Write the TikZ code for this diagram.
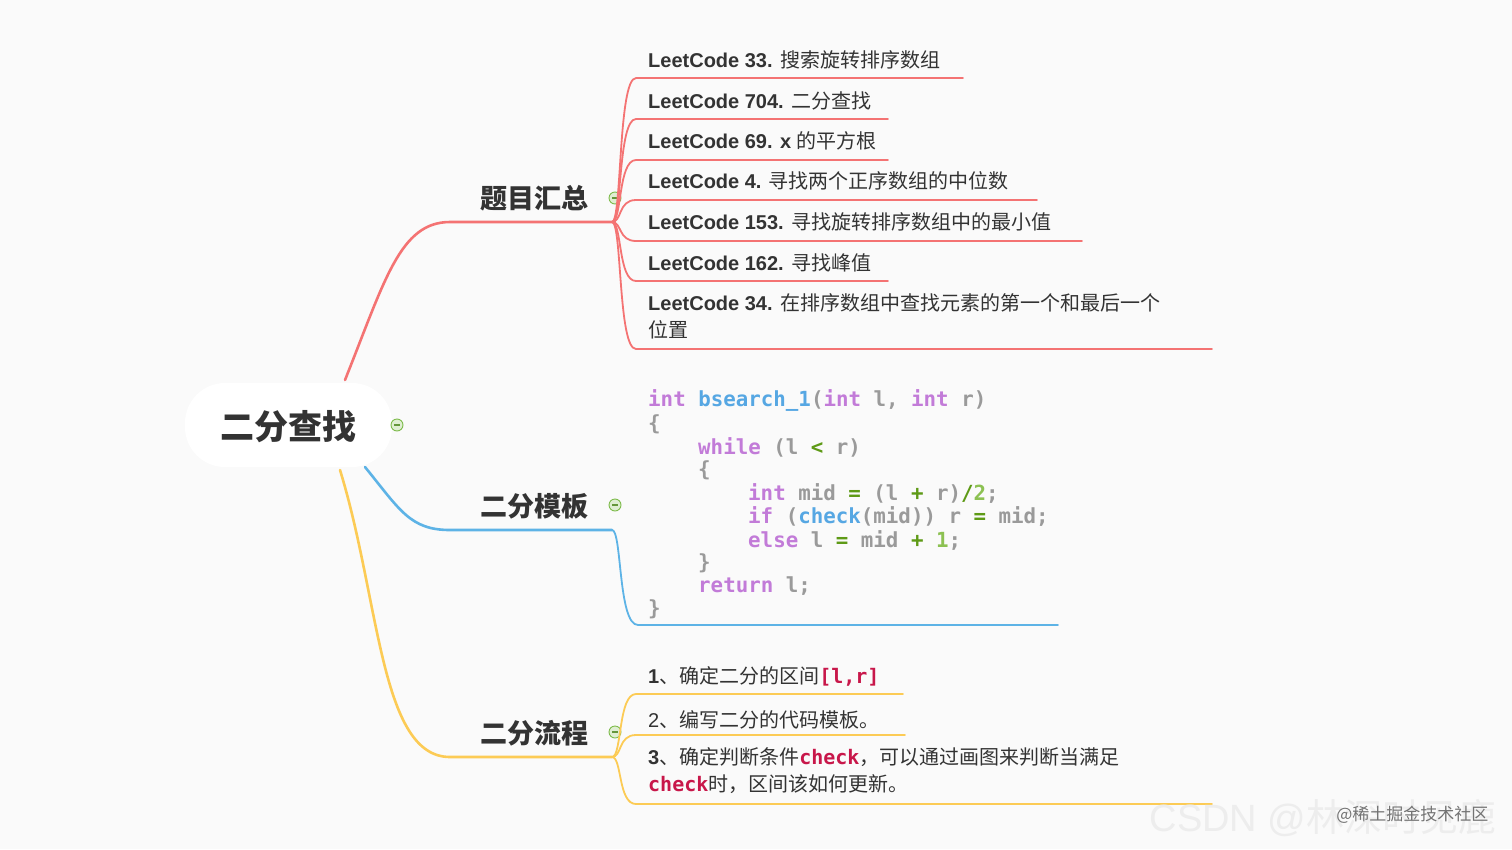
\documentclass[tikz,border=0pt]{standalone}
\usepackage{fontspec}
\setmainfont{Liberation Sans}
\newfontfamily\cjk{Noto Sans CJK SC}
\newfontfamily\codefont{DejaVu Sans Mono}
\usetikzlibrary{positioning}
\definecolor{bgc}{HTML}{FAFAFA}
\definecolor{txt}{HTML}{333333}
\definecolor{redb}{HTML}{F47373}
\definecolor{blueb}{HTML}{5DB3E6}
\definecolor{yelb}{HTML}{FCCB55}
\definecolor{kwc}{HTML}{C27BD8}
\definecolor{fnc}{HTML}{56A7E3}
\definecolor{idc}{HTML}{9A9A9A}
\definecolor{opc}{HTML}{5E9A16}
\definecolor{nmc}{HTML}{8CC152}
\definecolor{hlc}{HTML}{C8174A}
\definecolor{minc}{HTML}{7DBB4A}
\newcommand{\kw}[1]{\textcolor{kwc}{#1}}
\newcommand{\fn}[1]{\textcolor{fnc}{#1}}
\newcommand{\idt}[1]{\textcolor{idc}{#1}}
\newcommand{\op}[1]{\textcolor{opc}{#1}}
\newcommand{\nm}[1]{\textcolor{nmc}{#1}}
\newcommand{\hl}[1]{{\codefont\bfseries\textcolor{hlc}{#1}}}
\tikzset{
    title/.style = {font=\cjk\bfseries\fontsize{27}{30}\selectfont, text=txt, inner sep=0pt},
    item/.style = {anchor=west, inner sep=0pt, text=txt, align=left,
        font=\fontsize{20}{27}\selectfont},
    code/.style = {anchor=west, inner sep=0pt, text=idc,
        font=\codefont\bfseries\fontsize{20.8}{24}\selectfont},
    branch/.style = {line width=2.6pt, line cap=round},
    sub/.style = {line width=1.8pt, line cap=round},
    minus/.style = {circle, draw=minc, fill=minc!25, line width=0.9pt,
        minimum size=12pt, inner sep=0pt,
        path picture={\draw[minc!80!black, line width=1.2pt] ([xshift=-3pt]path picture bounding box.center) -- ([xshift=3pt]path picture bounding box.center);}}
}
\begin{document}
\begin{tikzpicture}[x=1pt, y=-1pt]
\fill[bgc] (0,0) rectangle (1512,849);
\useasboundingbox (0,0) rectangle (1512,849);

% root
\fill[white, rounded corners=40pt] (185,383) rectangle (392,467);
\node[font=\cjk\bfseries\fontsize{34}{36}\selectfont, text=txt] (root) at (288,427) {二分查找};
\node[minus] (m0) at (397,425) {};

% branch hubs
\coordinate (hubq) at (612,222);
\coordinate (hubt) at (612,530);
\coordinate (hubf) at (612,757);

% red branch: problems
\node[title] (topics) at (534,198) {题目汇总};
\node[minus] (m1) at (615,198) {};
\draw[branch, redb] (345,380) .. controls (385,280) and (400,222) .. (450,222) -- (hubq);

\node[item] (q1) at (648,60) {\textbf{LeetCode 33.} {\cjk 搜索旋转排序数组}};
\node[item] (q2) at (648,101) {\textbf{LeetCode 704.} {\cjk 二分查找}};
\node[item] (q3) at (648,141) {\textbf{LeetCode 69. x} {\cjk 的平方根}};
\node[item] (q4) at (648,181) {\textbf{LeetCode 4.} {\cjk 寻找两个正序数组的中位数}};
\node[item] (q5) at (648,222) {\textbf{LeetCode 153.} {\cjk 寻找旋转排序数组中的最小值}};
\node[item] (q6) at (648,263) {\textbf{LeetCode 162.} {\cjk 寻找峰值}};
\node[item] (q7) at (648,316) {\textbf{LeetCode 34.} {\cjk 在排序数组中查找元素的第一个和最后一个}\\{\cjk 位置}};

\foreach \y/\e in {78/963, 119/888, 160/888, 200/1037, 241/1082, 281/888, 349/1212}
    \draw[sub, redb] (hubq) .. controls (622,222) and (618,\y) .. (636,\y) -- (\e,\y);

% blue branch: template
\node[title] (tmpl) at (534,506) {二分模板};
\node[minus] (m2) at (615,505) {};
\draw[branch, blueb] (365,467) .. controls (400,510) and (410,530) .. (450,530) -- (hubt);
\draw[sub, blueb] (hubt) .. controls (622,530) and (618,625) .. (638,625) -- (1058,625);

\node[code] (c1) at (648,400) {\kw{int} \fn{bsearch\_1}(\kw{int} l, \kw{int} r)};
\node[code] (c2) at (648,424) {\{};
\node[code] (c3) at (698,447) {\kw{while} (l \op{<} r)};
\node[code] (c4) at (698,470) {\{};
\node[code] (c5) at (748,493) {\kw{int} mid \op{=} (l \op{+} r)\op{/}\nm{2};};
\node[code] (c6) at (748,516) {\kw{if} (\fn{check}(mid)) r \op{=} mid;};
\node[code] (c7) at (748,540) {\kw{else} l \op{=} mid \op{+} \nm{1};};
\node[code] (c8) at (698,563) {\}};
\node[code] (c9) at (698,586) {\kw{return} l;};
\node[code] (c10) at (648,609) {\}};

% yellow branch: steps
\node[title] (flow) at (534,733) {二分流程};
\node[minus] (m3) at (615,732) {};
\draw[branch, yelb] (340,470) .. controls (380,600) and (380,757) .. (450,757) -- (hubf);

\node[item] (s1) at (648,676) {\textbf{1}{\cjk 、确定二分的区间}\hl{[l,r]}};
\node[item] (s2) at (648,720) {2{\cjk 、编写二分的代码模板。}};
\node[item] (s3) at (648,771) {\textbf{3}{\cjk 、确定判断条件}\hl{check}{\cjk ，可以通过画图来判断当满足}\\\hl{check}{\cjk 时，区间该如何更新。}};

\foreach \y/\e in {694/903, 735/905, 804/1212}
    \draw[sub, yelb] (hubf) .. controls (622,757) and (618,\y) .. (636,\y) -- (\e,\y);

% watermark
\node[font=\fontsize{38}{40}\selectfont, text=black!7, anchor=east] (wm1) at (1500,818) {CSDN @{\cjk 林深时见鹿}};
\node[font=\cjk\fontsize{17}{20}\selectfont, text=black!55, anchor=east] (wm2) at (1492,815) {@稀土掘金技术社区};
\end{tikzpicture}
\end{document}
